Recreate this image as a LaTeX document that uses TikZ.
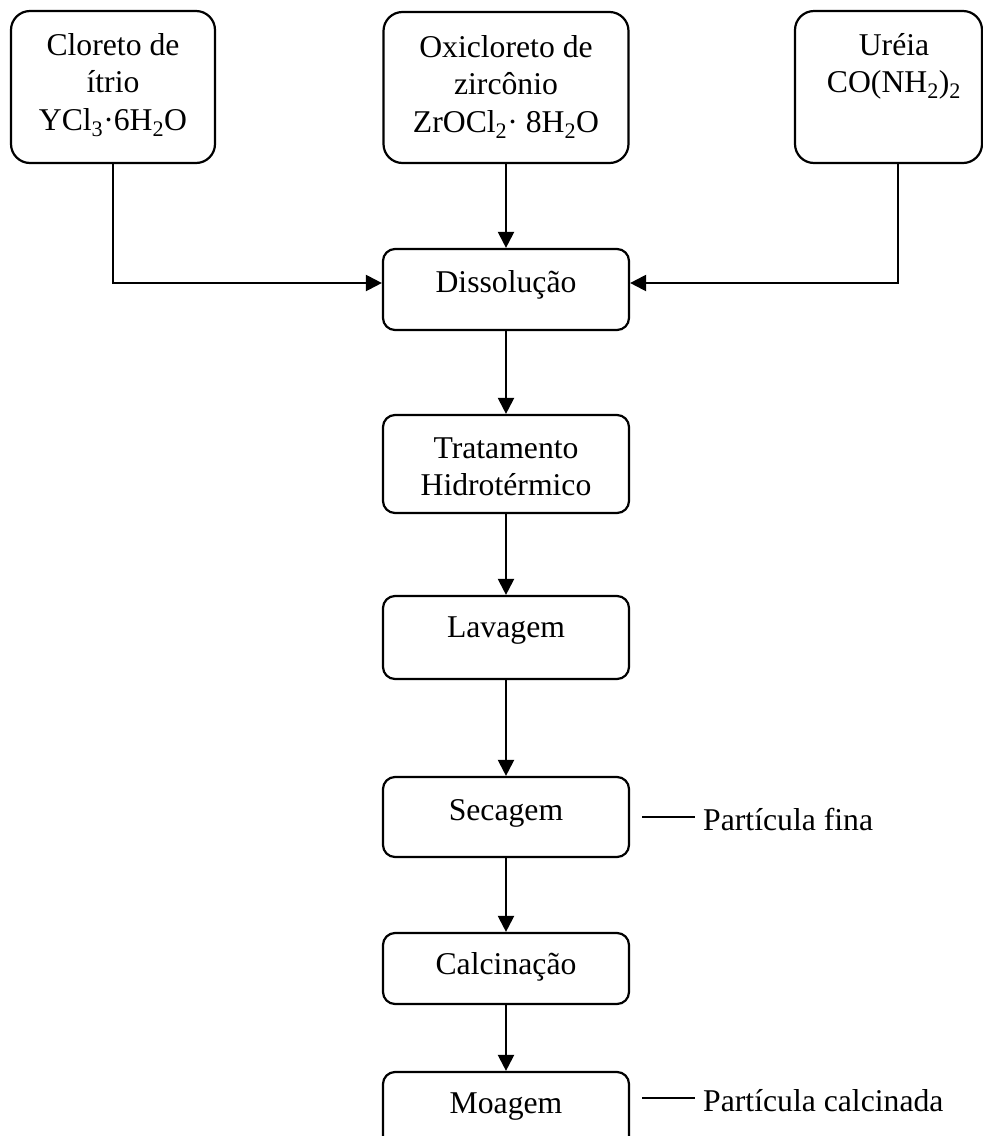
\documentclass[tikz,border=0pt]{standalone}
\usepackage{fontspec}
\setmainfont{Liberation Serif}
\usetikzlibrary{arrows.meta,calc}
\newcommand{\ml}[1]{\begin{tabular}[t]{@{}c@{}}#1\end{tabular}}
\begin{document}
\begin{tikzpicture}[x=1pt,y=-1pt,
  bigbox/.style={draw,line width=2.2pt,rounded corners=19pt,inner sep=0pt},
  stepbox/.style={draw,line width=2.2pt,rounded corners=12pt,inner sep=0pt,minimum width=246pt},
  txt/.style={inner sep=0pt,anchor=base,font=\fontsize{31.7}{37.5}\selectfont},
  lbl/.style={inner sep=0pt,anchor=base west,font=\fontsize{31.7}{37.5}\selectfont},
  arr/.style={line width=2.2pt,-{Triangle[length=16pt,width=16pt]}},
  ln/.style={line width=2.2pt}]
\useasboundingbox (0,0) rectangle (983,1136);
% top boxes
\node[bigbox,minimum width=204pt,minimum height=152pt] (cl) at (113,87) {};
\node[bigbox,minimum width=245pt,minimum height=151pt] (ox) at (506,87.5) {};
\node[bigbox,minimum width=187pt,minimum height=152pt] (ur) at (888.5,87) {};
\node[txt] (clt) at (113,55) {\ml{Cloreto de\\ ítrio\\ YCl\textsubscript{3}·6H\textsubscript{2}O}};
\node[txt] (oxt) at (506,57) {\ml{Oxicloreto de\\ zircônio\\ ZrOCl\textsubscript{2}· 8H\textsubscript{2}O}};
\node[txt] (urt) at (894,55) {\ml{Uréia\\ CO(NH\textsubscript{2})\textsubscript{2}}};
% process boxes
\node[stepbox,minimum height=81pt] (dis) at (506,289.5) {};
\node[stepbox,minimum height=98pt] (tra) at (506,464) {};
\node[stepbox,minimum height=83pt] (lav) at (506,637.5) {};
\node[stepbox,minimum height=80pt] (sec) at (506,817) {};
\node[stepbox,minimum height=71pt] (cal) at (506,968.5) {};
\node[stepbox,minimum height=80pt] (moa) at (506,1112) {};
\node[txt] (dist) at (506,292) {Dissolução};
\node[txt] (trat) at (506,458) {\ml{Tratamento\\ Hidrotérmico}};
\node[txt] (lavt) at (506,637) {Lavagem};
\node[txt] (sect) at (506,820) {Secagem};
\node[txt] (calt) at (506,974) {Calcinação};
\node[txt] (moat) at (506,1113) {Moagem};
% side labels
\node[lbl] (fina) at (703,830) {Partícula fina};
\node[lbl] (calc) at (703,1111) {Partícula calcinada};
\draw[ln] ($(fina.base west)+(-61,-13)$) -- ($(fina.base west)+(-8,-13)$);
\draw[ln] ($(calc.base west)+(-61,-13)$) -- ($(calc.base west)+(-8,-13)$);
% connectors
\draw[arr] (cl.south) |- ([yshift=6.5pt]dis.west);
\draw[arr] ([xshift=9.5pt]ur.south) |- ([yshift=6.5pt]dis.east);
\draw[arr] (ox.south) -- (dis.north);
\draw[arr] (dis.south) -- (tra.north);
\draw[arr] (tra.south) -- (lav.north);
\draw[arr] (lav.south) -- (sec.north);
\draw[arr] (sec.south) -- (cal.north);
\draw[arr] (cal.south) -- (moa.north);
\end{tikzpicture}
\end{document}
